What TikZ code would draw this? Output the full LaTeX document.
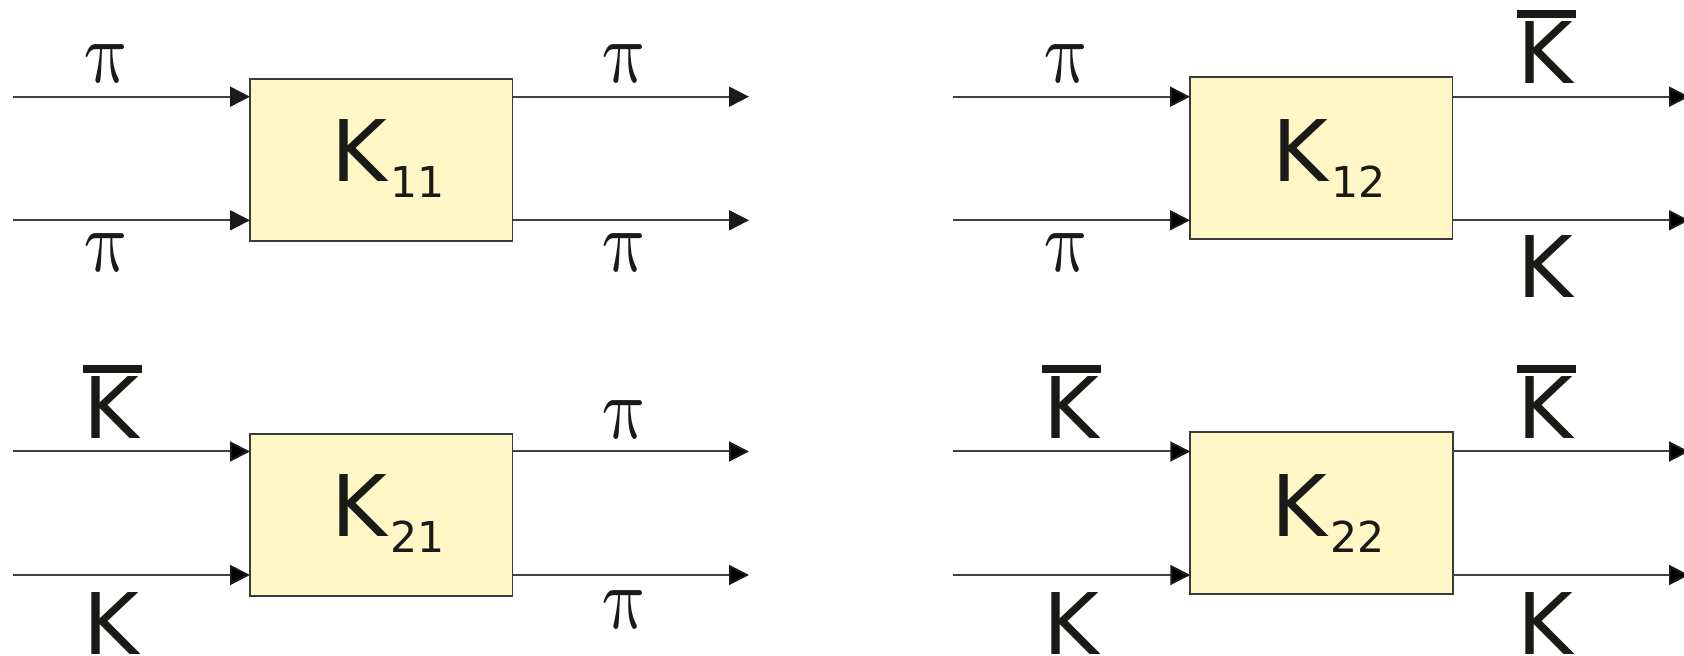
\documentclass[tikz,border=0pt]{standalone}
\usepackage{fontspec}
\usepackage{graphicx}
\newfontfamily\dvs{DejaVu Sans}
\usetikzlibrary{arrows.meta}
\definecolor{boxfill}{HTML}{FFF7C5}
\definecolor{boxline}{HTML}{3A3A3A}
\definecolor{ink}{HTML}{1A1A16}
\definecolor{linec}{HTML}{404040}
\newcommand{\PiL}{\tikz[baseline=0pt]\node[inner sep=0pt,outer sep=0pt,xslant=-0.17,transform shape,anchor=base,text=ink] (pi) at (0,0) {\scalebox{3.7}[4.4]{$\pi$}};}
\newcommand{\KL}{{\dvs\fontsize{42.5}{50}\selectfont K}}
\newcommand{\KbarL}{{\dvs\fontsize{42.5}{50}\selectfont\rlap{\kern-0.4pt\rule[33pt]{29.5pt}{3.75pt}}K}}
\newcommand{\Ksub}[1]{{\dvs\fontsize{42.5}{50}\selectfont K\kern1.5pt\raisebox{-8pt}{\fontsize{21.3}{25}\selectfont #1}}}
\begin{document}
\begin{tikzpicture}[x=0.5pt,y=-0.5pt,
  kbox/.style={draw=boxline,line width=0.8pt,fill=boxfill,minimum width=131.25pt,minimum height=81pt,inner sep=0pt,outer sep=0pt},
  flow/.style={draw=linec,line width=1pt,-{Triangle[length=10pt,width=10pt,color=ink]}},
  lbl/.style={inner sep=0pt,outer sep=0pt,text=ink,anchor=base},
  lblw/.style={inner sep=0pt,outer sep=0pt,text=ink,anchor=base west}
]
\useasboundingbox (0,0) rectangle (1684,656);

% ---------- panel K11 ----------
\node[kbox] (b11) at (381.25,160.2) {};
\node[lblw] (t11) at (331.7,181.7) {\Ksub{11}};
\coordinate (i11a) at (12.7,96.7);
\coordinate (i11b) at (12.7,220.3);
\coordinate (o11a) at (749,96.7);
\coordinate (o11b) at (749,220.3);
\draw[flow] (i11a) -- (i11a -| b11.west);
\draw[flow] (i11b) -- (i11b -| b11.west);
\draw[flow] (i11a -| b11.east) -- (o11a);
\draw[flow] (i11b -| b11.east) -- (o11b);
\node[lbl] (l11a) at (108,83) {\PiL};
\node[lbl] (l11b) at (108,272) {\PiL};
\node[lbl] (l11c) at (625.5,83) {\PiL};
\node[lbl] (l11d) at (625.5,272) {\PiL};

% ---------- panel K12 ----------
\node[kbox] (b12) at (1321.25,158) {};
\node[lblw] (t12) at (1272.7,181.7) {\Ksub{12}};
\coordinate (i12a) at (952.7,96.7);
\coordinate (i12b) at (952.7,220.3);
\coordinate (o12a) at (1689,96.7);
\coordinate (o12b) at (1689,220.3);
\draw[flow] (i12a) -- (i12a -| b12.west);
\draw[flow] (i12b) -- (i12b -| b12.west);
\draw[flow] (i12a -| b12.east) -- (o12a);
\draw[flow] (i12b -| b12.east) -- (o12b);
\node[lbl] (l12a) at (1068,83) {\PiL};
\node[lbl] (l12b) at (1068,272) {\PiL};
\node[lblw] (l12c) at (1517.7,84) {\KbarL};
\node[lblw] (l12d) at (1517.7,298) {\KL};

% ---------- panel K21 ----------
\node[kbox] (b21) at (381.25,515) {};
\node[lblw] (t21) at (331.7,537) {\Ksub{21}};
\coordinate (i21a) at (12.7,451.5);
\coordinate (i21b) at (12.7,575);
\coordinate (o21a) at (749,451.5);
\coordinate (o21b) at (749,575);
\draw[flow] (i21a) -- (i21a -| b21.west);
\draw[flow] (i21b) -- (i21b -| b21.west);
\draw[flow] (i21a -| b21.east) -- (o21a);
\draw[flow] (i21b -| b21.east) -- (o21b);
\node[lblw] (l21a) at (83.7,439) {\KbarL};
\node[lblw] (l21b) at (83.7,654) {\KL};
\node[lbl] (l21c) at (625.5,439) {\PiL};
\node[lbl] (l21d) at (625.5,628) {\PiL};

% ---------- panel K22 ----------
\node[kbox] (b22) at (1321.5,513) {};
\node[lblw] (t22) at (1271.5,537) {\Ksub{22}};
\coordinate (i22a) at (952.7,451.5);
\coordinate (i22b) at (952.7,575);
\coordinate (o22a) at (1689,451.5);
\coordinate (o22b) at (1689,575);
\draw[flow] (i22a) -- (i22a -| b22.west);
\draw[flow] (i22b) -- (i22b -| b22.west);
\draw[flow] (i22a -| b22.east) -- (o22a);
\draw[flow] (i22b -| b22.east) -- (o22b);
\node[lblw] (l22a) at (1043.2,439) {\KbarL};
\node[lblw] (l22b) at (1043.2,654) {\KL};
\node[lblw] (l22c) at (1517.7,439) {\KbarL};
\node[lblw] (l22d) at (1517.7,654) {\KL};
\end{tikzpicture}
\end{document}
